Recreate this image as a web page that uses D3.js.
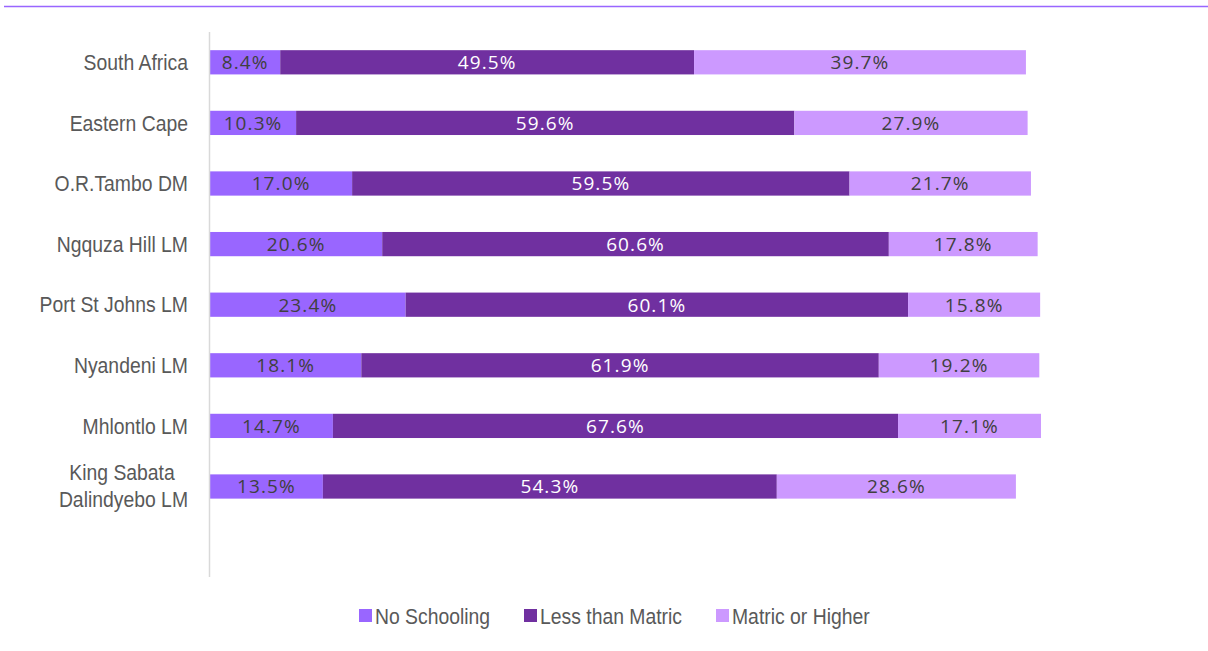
<!DOCTYPE html>
<html>
<head>
<meta charset="utf-8">
<script src="https://cdn.jsdelivr.net/npm/d3@7"></script>
<style>
  body { margin: 0; background: #fff; }
  svg { display: block; }
</style>
</head>
<body>
<div id="chart"></div>
<script>
var regions = ["South Africa", "Eastern Cape", "O.R.Tambo DM", "Ngquza Hill LM", "Port St Johns LM", "Nyandeni LM", "Mhlontlo LM", "King Sabata Dalindyebo LM"];
var series = ["No Schooling", "Less than Matric", "Matric or Higher"];
var noSchooling = [8.4, 10.3, 17.0, 20.6, 23.4, 18.1, 14.7, 13.5];
var lessThanMatric = [49.5, 59.6, 59.5, 60.6, 60.1, 61.9, 67.6, 54.3];
var matricOrHigher = [39.7, 27.9, 21.7, 17.8, 15.8, 19.2, 17.1, 28.6];
var colors = ["#9966FF", "#7030A0", "#CC99FF"];
var labelColors = ["#404040", "#FFFFFF", "#404040"];

var W = 1208, H = 651;
var svg = d3.select("#chart").append("svg").attr("width", W).attr("height", H);

// top rule (title is cut off above)
svg.append("line")
  .attr("x1", 4).attr("x2", W).attr("y1", 6.5).attr("y2", 6.5)
  .attr("stroke", "#9966FF").attr("stroke-width", 1.5);

var x = d3.scaleLinear().domain([0, 100]).range([210, 1046]);
var y = d3.scaleBand().domain(regions).range([32, 32 + 8 * 60.6]).paddingInner(0.6).paddingOuter(0.3);

var table = regions.map(function(r, i) {
  return {region: r, vals: [noSchooling[i], lessThanMatric[i], matricOrHigher[i]]};
});

var rows = svg.selectAll("g.row").data(table).enter().append("g").attr("class", "row");

rows.each(function(d) {
  var g = d3.select(this);
  var start = 0;
  d.vals.forEach(function(v, k) {
    var x0 = x(start), x1 = x(start + v);
    g.append("rect")
      .attr("x", x0).attr("y", y(d.region))
      .attr("width", x1 - x0).attr("height", y.bandwidth())
      .attr("fill", colors[k]);
    g.append("text")
      .attr("x", (x0 + x1) / 2).attr("y", y(d.region) + y.bandwidth() / 2)
      .attr("dy", "0.36em").attr("text-anchor", "middle")
      .attr("font-family", "'Open Sans', 'Noto Sans', sans-serif")
      .attr("font-size", 19).attr("letter-spacing", 1.1).attr("fill", labelColors[k])
      .text(v.toFixed(1) + "%");
    start += v;
  });
});

// category axis line
svg.append("line")
  .attr("x1", 209.5).attr("x2", 209.5).attr("y1", 32).attr("y2", 577)
  .attr("stroke", "#D9D9D9").attr("stroke-width", 1.5);

// category labels (narrow look: squeeze horizontally)
var catFont = "'Liberation Sans', Arial, sans-serif";
var sq = 0.88;
table.forEach(function(d) {
  var cy = y(d.region) + y.bandwidth() / 2;
  var g = svg.append("g").attr("transform", "translate(188," + cy + ") scale(" + sq + ",1)");
  var t = g.append("text")
    .attr("text-anchor", "end")
    .attr("font-family", catFont).attr("font-size", 22).attr("fill", "#595959");
  if (d.region === "King Sabata Dalindyebo LM") {
    t.append("tspan").attr("x", (122 - 188) / sq).attr("text-anchor", "middle").attr("y", -14).attr("dy", "0.35em").text("King Sabata");
    t.append("tspan").attr("x", 0).attr("y", 13).attr("dy", "0.35em").text("Dalindyebo LM");
  } else {
    t.attr("y", 0).attr("dy", "0.35em").text(d.region);
  }
});

// legend
var legendX = [359, 524, 716];
series.forEach(function(s, k) {
  svg.append("rect").attr("x", legendX[k]).attr("y", 609).attr("width", 13).attr("height", 13).attr("fill", colors[k]);
  svg.append("g").attr("transform", "translate(" + (legendX[k] + 16) + ",616) scale(" + sq + ",1)")
    .append("text").attr("x", 0).attr("y", 0).attr("dy", "0.35em")
    .attr("font-family", catFont).attr("font-size", 22).attr("fill", "#595959").text(s);
});
</script>
</body>
</html>
